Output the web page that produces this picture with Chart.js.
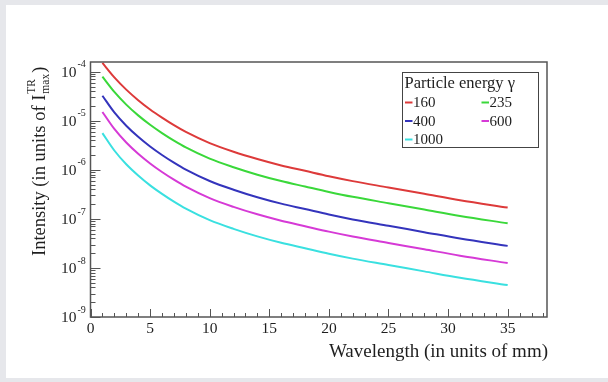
<!DOCTYPE html>
<html>
<head>
<meta charset="utf-8">
<script src="https://cdn.jsdelivr.net/npm/chart.js@4"></script>
<style>
    html, body { margin: 0; padding: 0; }
    body { width: 608px; height: 382px; background: #e6e7eb; position: relative; overflow: hidden; }
    .chart-box { position: absolute; left: 6px; top: 5px; width: 602px; height: 373px; background: #fff; }
</style>
</head>
<body>
<div class="chart-box"><canvas id="trChart" width="602" height="373"></canvas></div>
<script>
// wavelength in mm
const wavelengths = [1, 2, 3, 4, 5, 6, 7, 8, 10, 12, 14, 16, 18, 20, 22, 25, 28, 31, 35]

// intensity per particle energy (units of I_max^TR)
const gamma160 = [1.51e-4, 7.67e-5, 4.32e-5, 2.63e-5, 1.70e-5, 1.16e-5, 8.15e-6, 5.93e-6, 3.51e-6, 2.34e-6,
    1.66e-6, 1.23e-6, 9.55e-7, 7.41e-7, 5.89e-7, 4.37e-7, 3.24e-7, 2.40e-7, 1.70e-7]
const gamma235 = [7.94e-5, 3.88e-5, 2.14e-5, 1.29e-5, 8.30e-6, 5.62e-6, 3.95e-6, 2.86e-6, 1.69e-6, 1.13e-6,
    7.96e-7, 5.90e-7, 4.57e-7, 3.55e-7, 2.82e-7, 2.09e-7, 1.55e-7, 1.15e-7, 8.13e-8]
const gamma400 = [3.24e-5, 1.48e-5, 7.93e-6, 4.71e-6, 2.99e-6, 2.01e-6, 1.40e-6, 1.01e-6, 5.93e-7, 3.94e-7,
    2.77e-7, 2.05e-7, 1.59e-7, 1.23e-7, 9.77e-8, 7.24e-8, 5.37e-8, 3.98e-8, 2.82e-8]
const gamma600 = [1.51e-5, 6.81e-6, 3.61e-6, 2.13e-6, 1.35e-6, 9.04e-7, 6.30e-7, 4.54e-7, 2.65e-7, 1.76e-7,
    1.24e-7, 9.18e-8, 7.10e-8, 5.50e-8, 4.37e-8, 3.24e-8, 2.40e-8, 1.78e-8, 1.26e-8]
const gamma1000 = [5.62e-6, 2.48e-6, 1.30e-6, 7.67e-7, 4.83e-7, 3.24e-7, 2.25e-7, 1.62e-7, 9.44e-8, 6.27e-8,
    4.41e-8, 3.26e-8, 2.52e-8, 1.95e-8, 1.55e-8, 1.15e-8, 8.51e-9, 6.31e-9, 4.47e-9]

const energies = ["160", "235", "400", "600", "1000"]
const series = [gamma160, gamma235, gamma400, gamma600, gamma1000]
const lineColors = ["#dd3a3a", "#3ad83a", "#3434bc", "#d63ad6", "#3ae0e0"]

const xTickValues = [0, 5, 10, 15, 20, 25, 30, 35]
const yTickExps = [-9, -8, -7, -6, -5, -4]

const SERIF = '"Liberation Serif", "Times New Roman", serif'
const TEXT = "#1e1e1e"

//ROOT-like frame: ticks inside, labels and titles drawn by hand
const rootAxes = {
    id: "rootAxes",
    afterDraw(chart) {
        const ctx = chart.ctx
        const a = chart.chartArea
        const xs = chart.scales.x
        const ys = chart.scales.y

        const seg = (x1, y1, x2, y2) => {
            ctx.beginPath()
            ctx.moveTo(x1, y1)
            ctx.lineTo(x2, y2)
            ctx.stroke()
        }

        ctx.save()
        ctx.strokeStyle = "#555"
        ctx.lineWidth = 1.5
        ctx.strokeRect(a.left, a.top, a.right - a.left, a.bottom - a.top)

        // x ticks, minor every 1 mm
        ctx.lineWidth = 1
        for (let v = 0; v <= xs.max; v++) {
            const px = Math.round(xs.getPixelForValue(v)) + 0.5
            const len = v % 5 === 0 ? 8 : 4
            seg(px, a.bottom, px, a.bottom - len)
        }

        // y ticks, log minors
        for (const e of yTickExps) {
            for (let m = 1; m <= 9; m++) {
                const v = m * Math.pow(10, e)
                if (v > ys.max) break
                const py = Math.round(ys.getPixelForValue(v)) + 0.5
                seg(a.left, py, a.left + (m === 1 ? 10 : 5), py)
            }
        }

        ctx.fillStyle = TEXT
        ctx.textBaseline = "middle"

        // x labels
        ctx.font = "15.5px " + SERIF
        ctx.textAlign = "center"
        for (const v of xTickValues) {
            ctx.fillText(String(v), xs.getPixelForValue(v), a.bottom + 12)
        }

        // y labels 10^e
        for (const e of yTickExps) {
            const py = ys.getPixelForValue(Math.pow(10, e))
            ctx.font = "15.5px " + SERIF
            ctx.textAlign = "right"
            ctx.fillText("10", a.left - 14, py + 1)
            ctx.font = "10px " + SERIF
            ctx.textAlign = "left"
            ctx.fillText(String(e), a.left - 13, py - 7)
        }

        // x title
        ctx.font = "19px " + SERIF
        ctx.textAlign = "right"
        ctx.fillText("Wavelength (in units of mm)", a.right + 1, a.bottom + 35)

        // y title, rotated
        ctx.save()
        ctx.translate(39, 251)
        ctx.rotate(-Math.PI / 2)
        ctx.textBaseline = "alphabetic"
        ctx.textAlign = "left"
        ctx.font = "18.5px " + SERIF
        const main = "Intensity (in units of I"
        ctx.fillText(main, 0, 0)
        let x = ctx.measureText(main).width + 1
        ctx.font = "11.5px " + SERIF
        ctx.fillText("TR", x, -10)
        ctx.fillText("max", x, 4)
        x += Math.max(ctx.measureText("TR").width, ctx.measureText("max").width) + 1
        ctx.font = "18.5px " + SERIF
        ctx.fillText(")", x, 0)
        ctx.restore()

        // legend box
        const lx = 396.5, ly = 67.5, lw = 136, lh = 75
        ctx.fillStyle = "#fff"
        ctx.fillRect(lx, ly, lw, lh)
        ctx.strokeStyle = "#444"
        ctx.lineWidth = 1
        ctx.strokeRect(lx, ly, lw, lh)
        ctx.fillStyle = TEXT
        ctx.font = "16.5px " + SERIF
        ctx.textAlign = "left"
        ctx.fillText("Particle energy γ", lx + 2, ly + 11)

        ctx.font = "15px " + SERIF
        const cols = [lx + 2.5, lx + 79]
        const rows = [ly + 30, ly + 48.5, ly + 67]
        chart.data.datasets.forEach((ds, i) => {
            const cx = cols[i % 2]
            const cy = rows[Math.floor(i / 2)]
            ctx.strokeStyle = ds.borderColor
            ctx.lineWidth = 2
            seg(cx, cy, cx + 7.5, cy)
            ctx.fillStyle = TEXT
            ctx.fillText(ds.label, cx + 8, cy + 1)
        })

        ctx.restore()
    }
}

new Chart(document.getElementById("trChart"), {
    type: "line",
    data: {
        datasets: series.map((vals, i) => ({
            label: energies[i],
            data: vals.map((y, j) => ({ x: wavelengths[j], y: y })),
            borderColor: lineColors[i],
            borderWidth: 2,
            pointRadius: 0,
            fill: false,
            cubicInterpolationMode: "monotone"
        }))
    },
    options: {
        responsive: false,
        animation: false,
        layout: { padding: { left: 84.5, top: 57, right: 61, bottom: 61 } },
        plugins: {
            legend: { display: false },
            tooltip: { enabled: false }
        },
        scales: {
            x: { type: "linear", min: 0, max: 38.3, display: false },
            y: { type: "logarithmic", min: 1e-9, max: 1.58e-4, display: false }
        }
    },
    plugins: [rootAxes]
})
</script>
</body>
</html>
